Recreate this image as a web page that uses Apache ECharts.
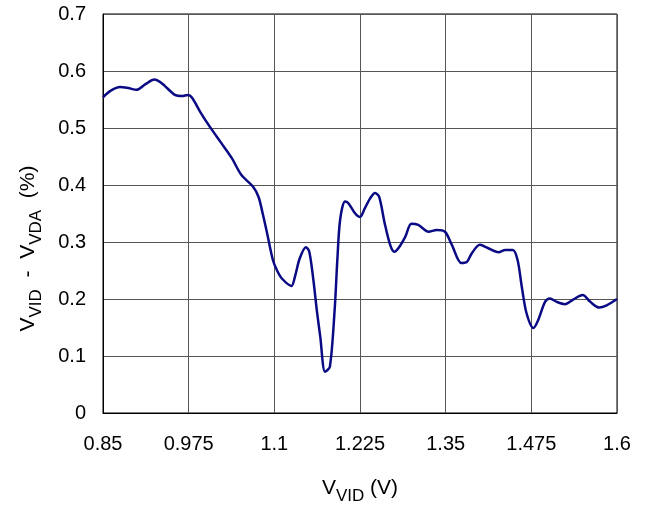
<!DOCTYPE html>
<html><head><meta charset="utf-8">
<script src="https://cdn.jsdelivr.net/npm/echarts@6/dist/echarts.min.js"></script>
<style>html,body{margin:0;padding:0;background:#fff}#c{width:649px;height:509px}</style>
</head><body><div id="c"></div>
<script>
var xValues = [0.85,0.862,0.875,0.887,0.899,0.912,0.925,0.933,0.940,0.955,0.965,0.974,0.980,0.992,1.006,1.023,1.038,1.052,1.069,1.077,1.083,1.089,1.098,1.104,1.111,1.125,1.130,1.137,1.146,1.151,1.157,1.162,1.167,1.174,1.181,1.188,1.192,1.196,1.203,1.208,1.218,1.225,1.232,1.240,1.247,1.253,1.261,1.269,1.275,1.281,1.291,1.300,1.310,1.325,1.337,1.349,1.359,1.373,1.381,1.388,1.400,1.412,1.427,1.437,1.448,1.455,1.461,1.468,1.478,1.485,1.495,1.502,1.512,1.524,1.536,1.550,1.561,1.574,1.585,1.600];
var yValues = [0.554,0.566,0.572,0.570,0.567,0.577,0.585,0.581,0.574,0.558,0.556,0.558,0.553,0.528,0.502,0.473,0.447,0.4175,0.397,0.379,0.350,0.318,0.268,0.250,0.236,0.223,0.239,0.271,0.291,0.283,0.233,0.180,0.134,0.0725,0.081,0.181,0.270,0.339,0.371,0.368,0.350,0.344,0.359,0.377,0.386,0.379,0.333,0.295,0.283,0.289,0.309,0.332,0.330,0.318,0.321,0.318,0.295,0.263,0.265,0.280,0.295,0.289,0.282,0.286,0.286,0.268,0.222,0.175,0.149,0.163,0.195,0.201,0.195,0.191,0.199,0.207,0.195,0.185,0.189,0.200];
var xTicks = [0.85,0.975,1.1,1.225,1.35,1.475,1.6];
var yTicks = [0,0.1,0.2,0.3,0.4,0.5,0.6,0.7];

var data = xValues.map(function(x,i){return [x,yValues[i]];});
var font = '"Liberation Sans", Arial, sans-serif';
var richName = {
  v:{fontSize:21,fontFamily:font,color:'#000',verticalAlign:'bottom',lineHeight:24},
  s:{fontSize:17,fontFamily:font,color:'#000',verticalAlign:'bottom',lineHeight:18,padding:[0,0,-6,0]}
};
var chart = echarts.init(document.getElementById('c'), null, {renderer:'canvas'});
chart.setOption({
  animation:false,
  grid:{left:103,right:32,top:14,bottom:96,outerBoundsMode:'none',containLabel:false,show:true,borderColor:'#000',borderWidth:1},
  xAxis:{
    type:'value',min:0.85,max:1.6,
    name:'{v|V}{s|VID}{v| (V)}',nameLocation:'middle',nameGap:62,
    nameTextStyle:{rich:richName},
    axisLine:{show:true,lineStyle:{color:'#000',width:1}},
    axisTick:{show:false,customValues:xTicks},
    axisLabel:{customValues:xTicks,fontSize:20,fontFamily:font,color:'#000',margin:21,formatter:function(v){return String(+v.toFixed(3));}},
    splitLine:{show:true,lineStyle:{color:'#555',width:1}}
  },
  yAxis:{
    type:'value',min:0,max:0.7,interval:0.1,
    name:'{v|V}{s|VID}{v|  -  V}{s|VDA}{v|  (%)}',nameLocation:'middle',nameGap:64,nameRotate:90,
    nameTextStyle:{rich:richName,padding:[0,70,0,0]},
    axisLine:{show:true,lineStyle:{color:'#000',width:1}},
    axisTick:{show:false},
    axisLabel:{fontSize:20,fontFamily:font,color:'#000',margin:17,formatter:function(v){return String(+v.toFixed(1));}},
    splitLine:{show:true,lineStyle:{color:'#555',width:1}}
  },
  series:[{type:'line',data:data,smooth:0.3,showSymbol:false,lineStyle:{color:'#0a0a85',width:2.5}}]
});
</script></body></html>
